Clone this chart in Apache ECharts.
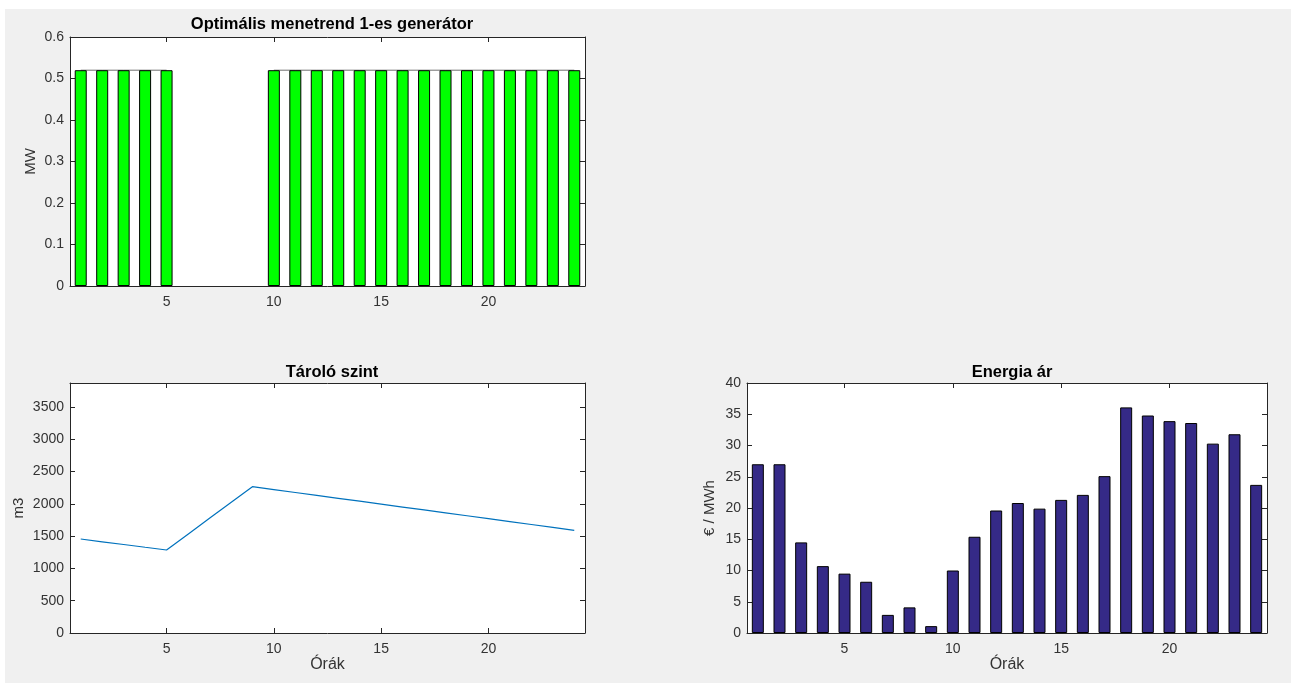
<!DOCTYPE html>
<html>
<head>
<meta charset="utf-8">
<script src="https://cdn.jsdelivr.net/npm/echarts@6/dist/echarts.min.js"></script>
<style>
  html, body { margin: 0; padding: 0; background: #ffffff; }
  #fig { position: absolute; left: 5px; top: 9px; width: 1286px; height: 674px; background: #f0f0f0; }
  #chart { position: absolute; left: 0; top: 0; width: 1296px; height: 683px; }
</style>
</head>
<body>
<div id="fig"></div>
<div id="chart"></div>
<script>
// ---- data ----
const hours = [1,2,3,4,5,6,7,8,9,10,11,12,13,14,15,16,17,18,19,20,21,22,23,24];
const generatorOutput = [0.52,0.52,0.52,0.52,0.52,0,0,0,0,0.52,0.52,0.52,0.52,0.52,0.52,0.52,0.52,0.52,0.52,0.52,0.52,0.52,0.52,0.52];
const storageLevel = [1455,1412,1370,1327,1285,1530,1775,2020,2265,2220,2175,2130,2085,2040,1995,1950,1905,1860,1815,1770,1725,1680,1635,1590];
const energyPrice = [27,27,14.5,10.7,9.5,8.2,2.9,4.1,1.1,10,15.4,19.6,20.8,19.9,21.3,22.1,25.1,36.1,34.8,33.9,33.6,30.3,31.8,23.7];
const xTickValues = [5,10,15,20];
const genTicks = [0,0.1,0.2,0.3,0.4,0.5,0.6];
const storageTicks = [0,500,1000,1500,2000,2500,3000,3500];
const priceTicks = [0,5,10,15,20,25,30,35,40];
const titles = ['Optimális menetrend 1-es generátor', 'Tároló szint', 'Energia ár'];
const yNames = ['MW', 'm3', '€ / MWh'];
const xName = 'Órák';

// ---- style ----
const FONT = 'Liberation Sans, Arial, Helvetica, sans-serif';
const AX = '#262626';
const LBL = '#333333';

const grids = [
  { left: 70, top: 37, width: 515, height: 249 },
  { left: 70, top: 383, width: 515, height: 250 },
  { left: 747, top: 383, width: 520, height: 250 }
];

const plainNum = v => String(v);

function xAxisPair(gi, showLabels) {
  const base = {
    type: 'value', gridIndex: gi, min: 0.5, max: 24.5,
    axisLine: { show: true, onZero: false, lineStyle: { color: AX, width: 1 } },
    splitLine: { show: false },
  };
  return [
    Object.assign({}, base, {
      position: 'bottom',
      axisTick: { show: true, inside: true, length: 5, customValues: xTickValues, lineStyle: { color: AX } },
      axisLabel: { show: true, customValues: xTickValues, formatter: plainNum, color: LBL, fontSize: 14, fontFamily: FONT, margin: 9 },
      name: showLabels ? xName : '', nameLocation: 'middle', nameGap: 24,
      nameTextStyle: { color: LBL, fontSize: 16, fontFamily: FONT }
    }),
    Object.assign({}, base, {
      position: 'top',
      axisTick: { show: true, inside: true, length: 5, customValues: xTickValues, lineStyle: { color: AX } },
      axisLabel: { show: false }
    })
  ];
}

function yAxisPair(gi, min, max, ticks, name, gap) {
  const base = {
    type: 'value', gridIndex: gi, min: min, max: max,
    axisLine: { show: true, onZero: false, lineStyle: { color: AX, width: 1 } },
    splitLine: { show: false },
  };
  return [
    Object.assign({}, base, {
      position: 'left',
      axisTick: { show: true, inside: true, length: 5, customValues: ticks, lineStyle: { color: AX } },
      axisLabel: { show: true, customValues: ticks, formatter: plainNum, color: LBL, fontSize: 14, fontFamily: FONT, margin: 6 },
      name: name, nameLocation: 'middle', nameGap: gap, nameRotate: 90,
      nameTextStyle: { color: LBL, fontSize: 15, fontFamily: FONT }
    }),
    Object.assign({}, base, {
      position: 'right',
      axisTick: { show: true, inside: true, length: 5, customValues: ticks, lineStyle: { color: AX } },
      axisLabel: { show: false }
    })
  ];
}

const xAxes = [].concat(xAxisPair(0, false), xAxisPair(1, true), xAxisPair(2, true));
const yAxes = [].concat(
  yAxisPair(0, 0, 0.6, genTicks, yNames[0], 32),
  yAxisPair(1, 0, 3870, storageTicks, yNames[1], 44),
  yAxisPair(2, 0, 40, priceTicks, yNames[2], 30)
);

const titleStyle = { color: '#000', fontSize: 16.5, fontWeight: 'bold', fontFamily: FONT };

function barData(values) {
  return hours.map((h, i) => values[i] === 0
    ? { value: [h, values[i]], itemStyle: { borderWidth: 0, opacity: 0 } }
    : { value: [h, values[i]] });
}

const option = {
  backgroundColor: 'transparent',
  animation: false,
  title: [
    { text: titles[0], left: 327, top: 11, textAlign: 'center', textStyle: titleStyle },
    { text: titles[1], left: 327, top: 359, textAlign: 'center', textStyle: titleStyle },
    { text: titles[2], left: 1007, top: 359, textAlign: 'center', textStyle: titleStyle }
  ],
  grid: grids.map(g => Object.assign({ show: true, backgroundColor: '#ffffff', borderWidth: 0, containLabel: false }, g)),
  xAxis: xAxes,
  yAxis: yAxes,
  series: [
    {
      type: 'line', xAxisIndex: 0, yAxisIndex: 0, symbol: 'none', showSymbol: false, connectNulls: false,
      data: hours.map((h, i) => [h, generatorOutput[i] === 0 ? null : generatorOutput[i]]),
      lineStyle: { color: '#707070', width: 1 }, z: 1
    },
    {
      type: 'bar', xAxisIndex: 0, yAxisIndex: 0, barWidth: 12,
      data: barData(generatorOutput),
      itemStyle: { color: '#00ff00', borderColor: '#000000', borderWidth: 1 }, z: 2
    },
    {
      type: 'line', xAxisIndex: 2, yAxisIndex: 2, showSymbol: false, symbol: 'none',
      data: hours.map((h, i) => [h, storageLevel[i]]),
      lineStyle: { color: '#0072bd', width: 1.2 }
    },
    {
      type: 'bar', xAxisIndex: 4, yAxisIndex: 4, barWidth: 12,
      data: barData(energyPrice),
      itemStyle: { color: '#352a87', borderColor: '#000000', borderWidth: 1 }
    }
  ]
};

const chart = echarts.init(document.getElementById('chart'), null, { renderer: 'canvas' });
chart.setOption(option);
</script>
</body>
</html>
